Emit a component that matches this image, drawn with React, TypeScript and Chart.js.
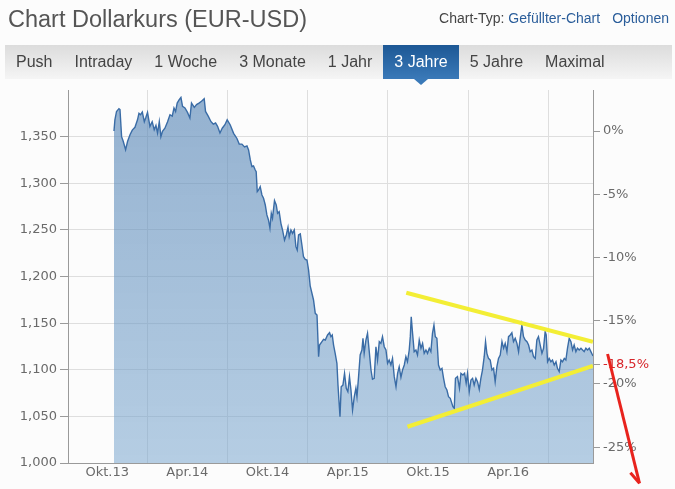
import React, { useEffect, useRef } from 'react';
import { Chart, registerables } from 'chart.js';

Chart.register(...registerables);

// x = months since Jan 2013 (Okt.13 = 9, Jan.14 = 12, ...), y = EUR/USD rate
const eurUsd: [number, number][] = [
  [9.51, 1.356], [9.58, 1.368], [9.7, 1.377], [9.88, 1.38], [9.96, 1.379], [10.08, 1.35], [10.2, 1.345],
  [10.38, 1.336], [10.53, 1.345], [10.71, 1.352], [10.88, 1.357], [11.08, 1.36], [11.27, 1.368], [11.38, 1.375],
  [11.5, 1.3735], [11.63, 1.3764], [11.78, 1.366], [11.9, 1.3707], [12.02, 1.376], [12.2, 1.361], [12.37, 1.366],
  [12.52, 1.3574], [12.65, 1.362], [12.77, 1.3539], [12.9, 1.366], [13.02, 1.35], [13.14, 1.3557], [13.32, 1.359],
  [13.52, 1.366], [13.7, 1.3735], [13.87, 1.372], [14.0, 1.3807], [14.12, 1.377], [14.24, 1.386], [14.39, 1.3896],
  [14.52, 1.392], [14.64, 1.3825], [14.82, 1.3807], [15.01, 1.376], [15.19, 1.37], [15.31, 1.386], [15.52, 1.3814],
  [15.69, 1.3843], [15.87, 1.386], [16.06, 1.3879], [16.26, 1.3907], [16.36, 1.377], [16.56, 1.372], [16.77, 1.366],
  [16.94, 1.3635], [17.11, 1.3646], [17.26, 1.361], [17.44, 1.3539], [17.61, 1.359], [17.81, 1.3628], [17.98, 1.368],
  [18.21, 1.3625], [18.46, 1.3535], [18.71, 1.348], [18.88, 1.342], [19.08, 1.342], [19.28, 1.339], [19.46, 1.34],
  [19.58, 1.3357], [19.71, 1.325], [19.83, 1.3178], [19.95, 1.3185], [20.08, 1.3142], [20.15, 1.3124], [20.23, 1.291],
  [20.33, 1.2928], [20.45, 1.2963], [20.58, 1.2874], [20.7, 1.2839], [20.83, 1.2767], [20.95, 1.266], [21.07, 1.2606],
  [21.18, 1.2517], [21.28, 1.2678], [21.37, 1.2624], [21.52, 1.2813], [21.65, 1.2767], [21.75, 1.2678], [21.87, 1.2695],
  [22.0, 1.257], [22.12, 1.2499], [22.27, 1.2391], [22.4, 1.2445], [22.53, 1.2528], [22.62, 1.2427], [22.75, 1.2499],
  [22.87, 1.2463], [23.0, 1.2499], [23.12, 1.232], [23.22, 1.2284], [23.32, 1.2445], [23.45, 1.2456], [23.57, 1.2338],
  [23.69, 1.2212], [23.82, 1.2184], [23.95, 1.2177], [24.07, 1.207], [24.19, 1.19], [24.44, 1.1748], [24.57, 1.1605],
  [24.7, 1.1587], [24.82, 1.114], [24.89, 1.1265], [25.07, 1.1301], [25.19, 1.1326], [25.32, 1.1319], [25.49, 1.1373],
  [25.64, 1.1397], [25.74, 1.1355], [25.84, 1.1373], [25.94, 1.1265], [26.06, 1.1176], [26.19, 1.1069], [26.27, 1.0836],
  [26.34, 1.0676], [26.42, 1.0496], [26.51, 1.0818], [26.64, 1.0836], [26.76, 1.0962], [26.89, 1.0801], [27.01, 1.0765],
  [27.13, 1.0926], [27.24, 1.0783], [27.36, 1.0568], [27.49, 1.0711], [27.61, 1.0801], [27.69, 1.0711], [27.81, 1.0926],
  [27.93, 1.1158], [28.06, 1.1212], [28.14, 1.1337], [28.23, 1.1176], [28.36, 1.1319], [28.48, 1.1391], [28.61, 1.1194],
  [28.74, 1.0997], [28.85, 1.0898], [28.98, 1.0908], [29.11, 1.1247], [29.23, 1.1104], [29.36, 1.1301], [29.48, 1.1283],
  [29.6, 1.1355], [29.73, 1.1247], [29.86, 1.1212], [29.98, 1.1069], [30.1, 1.1104], [30.23, 1.1051], [30.35, 1.1122],
  [30.48, 1.0926], [30.61, 1.0818], [30.73, 1.0962], [30.85, 1.1033], [30.98, 1.0919], [31.1, 1.0997], [31.23, 1.1051],
  [31.35, 1.114], [31.47, 1.1086], [31.6, 1.1212], [31.68, 1.1355], [31.75, 1.1569], [31.85, 1.1391], [31.97, 1.1194],
  [32.1, 1.1212], [32.22, 1.1158], [32.35, 1.1319], [32.48, 1.123], [32.6, 1.1283], [32.72, 1.1176], [32.85, 1.1212],
  [32.97, 1.1176], [33.1, 1.123], [33.22, 1.1194], [33.34, 1.1391], [33.45, 1.148], [33.55, 1.1355], [33.67, 1.1337],
  [33.79, 1.1051], [33.92, 1.0997], [34.05, 1.1015], [34.17, 1.0908], [34.29, 1.0818], [34.42, 1.0783], [34.54, 1.0711],
  [34.67, 1.0694], [34.87, 1.0604], [34.97, 1.0586], [35.06, 1.0908], [35.21, 1.0926], [35.36, 1.0801], [35.47, 1.0962],
  [35.62, 1.0944], [35.74, 1.0962], [35.86, 1.0855], [35.96, 1.0962], [36.09, 1.0765], [36.22, 1.089], [36.34, 1.0908],
  [36.46, 1.0836], [36.59, 1.0908], [36.71, 1.0872], [36.84, 1.079], [36.96, 1.0908], [37.08, 1.0997], [37.21, 1.114],
  [37.31, 1.1301], [37.41, 1.1176], [37.53, 1.1122], [37.66, 1.1104], [37.79, 1.0997], [37.91, 1.1015], [38.03, 1.0872],
  [38.16, 1.1033], [38.28, 1.1122], [38.41, 1.1158], [38.54, 1.1301], [38.66, 1.123], [38.78, 1.1283], [38.91, 1.1194],
  [39.03, 1.1355], [39.16, 1.1373], [39.28, 1.1397], [39.4, 1.1301], [39.53, 1.1337], [39.66, 1.1283], [39.78, 1.1194],
  [39.9, 1.1337], [40.03, 1.148], [40.15, 1.1355], [40.28, 1.1319], [40.41, 1.1301], [40.53, 1.1265], [40.65, 1.1194],
  [40.78, 1.1212], [40.9, 1.114], [41.03, 1.1122], [41.15, 1.1319], [41.27, 1.1355], [41.4, 1.1265], [41.53, 1.1176],
  [41.65, 1.123], [41.77, 1.1408], [41.85, 1.1373], [41.95, 1.1086], [42.07, 1.1122], [42.2, 1.1086], [42.32, 1.1104],
  [42.45, 1.1051], [42.58, 1.1086], [42.69, 1.1015], [42.82, 1.098], [42.95, 1.1104], [43.07, 1.1086], [43.2, 1.1122],
  [43.32, 1.1104], [43.44, 1.123], [43.57, 1.1337], [43.7, 1.1301], [43.82, 1.1212], [43.94, 1.1265], [44.07, 1.1194],
  [44.19, 1.123], [44.32, 1.1212], [44.45, 1.123], [44.57, 1.1212], [44.69, 1.1194], [44.82, 1.123], [44.94, 1.1212],
  [45.07, 1.123], [45.19, 1.1194], [45.35, 1.1147],
];

const xLabelMonths = [9, 15, 21, 27, 33, 39];
const xLabels = ['Okt.13', 'Apr.14', 'Okt.14', 'Apr.15', 'Okt.15', 'Apr.16'];
const xGridMonths = [12, 18, 24, 30, 36, 42];
const xMin = 6.07;
const xMax = 45.35;

const yTicks = [1.0, 1.05, 1.1, 1.15, 1.2, 1.25, 1.3, 1.35];
const yMin = 1.0;
const yMax = 1.4;

const baseRate = 1.356;
const pctTicks = [-25, -20, -15, -10, -5, 0];
const currentPct = -18.5;

// annotations drawn in data coordinates
const upperTrend: [number, number][] = [[31.38, 1.1826], [45.34, 1.13]];
const lowerTrend: [number, number][] = [[31.47, 1.0389], [45.34, 1.104]];
const arrowShaft: [number, number][] = [[46.44, 1.1169], [48.83, 0.9782]];
const arrowHead: [number, number][] = [[48.15, 0.9895], [48.83, 0.9782], [49.15, 0.9912]];

const tabs = ['Push', 'Intraday', '1 Woche', '3 Monate', '1 Jahr', '3 Jahre', '5 Jahre', 'Maximal'];
const activeTab = '3 Jahre';

const toPts = (arr: [number, number][]) => arr.map(([x, y]) => ({ x, y }));

const tickFont = { family: '"DejaVu Sans", Verdana, sans-serif', size: 13 };
const tickGrey = '#6a6a6a';
const axisGrey = '#9a9a9a';

export default function App() {
  const canvasRef = useRef<HTMLCanvasElement | null>(null);

  useEffect(() => {
    const canvas = canvasRef.current;
    if (!canvas) return;
    const chart = new Chart(canvas, {
      type: 'line',
      data: {
        datasets: [
          {
            data: toPts(arrowShaft),
            borderColor: '#e8231d',
            borderWidth: 3,
            pointRadius: 0,
            fill: false,
            clip: false as any,
            order: 0,
          },
          {
            data: toPts(arrowHead),
            borderColor: '#e8231d',
            borderWidth: 3,
            pointRadius: 0,
            fill: false,
            clip: false as any,
            order: 0,
          },
          {
            data: toPts(upperTrend),
            borderColor: '#f3ee35',
            borderWidth: 4,
            pointRadius: 0,
            fill: false,
            order: 1,
          },
          {
            data: toPts(lowerTrend),
            borderColor: '#f3ee35',
            borderWidth: 4,
            pointRadius: 0,
            fill: false,
            order: 1,
          },
          {
            data: toPts(eurUsd),
            borderColor: '#3a6ca6',
            borderWidth: 1.4,
            pointRadius: 0,
            tension: 0,
            fill: 'start',
            order: 2,
            backgroundColor: (ctx: any) => {
              const area = ctx.chart.chartArea;
              if (!area) return 'rgba(100,145,190,0.6)';
              const g = ctx.chart.ctx.createLinearGradient(0, area.top, 0, area.bottom);
              g.addColorStop(0, 'rgba(88,134,182,0.64)');
              g.addColorStop(1, 'rgba(122,166,206,0.55)');
              return g;
            },
          },
        ],
      },
      options: {
        animation: false,
        responsive: false,
        events: [],
        layout: { padding: { top: 90, left: 0, right: 0, bottom: 0 } },
        plugins: { legend: { display: false }, tooltip: { enabled: false } },
        scales: {
          x: {
            type: 'linear',
            min: xMin,
            max: xMax,
            afterBuildTicks: (s: any) => {
              s.ticks = [...xLabelMonths, ...xGridMonths].sort((a, b) => a - b).map((v) => ({ value: v }));
            },
            afterFit: (s: any) => {
              s.height = 26;
            },
            grid: {
              color: (ctx: any) => (ctx.tick && xGridMonths.includes(ctx.tick.value) ? '#dedede' : 'rgba(0,0,0,0)'),
              drawTicks: false,
            },
            border: { color: axisGrey },
            ticks: {
              autoSkip: false,
              maxRotation: 0,
              padding: 2,
              color: tickGrey,
              font: tickFont,
              callback: (v: any) => {
                const i = xLabelMonths.indexOf(Number(v));
                return i >= 0 ? xLabels[i] : '';
              },
            },
          },
          y: {
            type: 'linear',
            position: 'left',
            min: yMin,
            max: yMax,
            afterBuildTicks: (s: any) => {
              s.ticks = yTicks.map((v) => ({ value: v }));
            },
            afterFit: (s: any) => {
              s.width = 68;
            },
            grid: { color: '#dedede', tickColor: axisGrey, tickLength: 8 },
            border: { color: axisGrey },
            ticks: {
              padding: 3,
              color: tickGrey,
              font: tickFont,
              callback: (v: any) => Number(v).toFixed(3).replace('.', ','),
            },
          },
          y2: {
            type: 'linear',
            position: 'right',
            min: (yMin / baseRate - 1) * 100,
            max: (yMax / baseRate - 1) * 100,
            afterBuildTicks: (s: any) => {
              s.ticks = [...pctTicks, currentPct].sort((a, b) => a - b).map((v) => ({ value: v }));
            },
            afterFit: (s: any) => {
              s.width = 82;
            },
            grid: { drawOnChartArea: false, tickColor: axisGrey, tickLength: 7 },
            border: { color: axisGrey },
            ticks: {
              padding: 3,
              font: tickFont,
              color: (ctx: any) => (ctx.tick && ctx.tick.value === currentPct ? '#d7262b' : tickGrey),
              callback: (v: any) => String(v).replace('.', ',') + '%',
            },
          },
        },
      },
    });
    return () => chart.destroy();
  }, []);

  return (
    <div
      style={{
        position: 'absolute',
        left: 0,
        top: 0,
        width: 675,
        height: 489,
        background: '#fcfcfc',
        overflow: 'hidden',
        fontFamily: '"Liberation Sans", Arial, Helvetica, sans-serif',
      }}
    >
      <canvas ref={canvasRef} width={675} height={489} style={{ position: 'absolute', left: 0, top: 0 }} />
      <div style={{ position: 'absolute', left: 8, top: 8, fontSize: 23.5, lineHeight: 1, color: '#555', whiteSpace: 'nowrap' }}>
        Chart Dollarkurs (EUR-USD)
      </div>
      <div style={{ position: 'absolute', right: 6, top: 11, fontSize: 14, lineHeight: 1, color: '#444', whiteSpace: 'nowrap' }}>
        Chart-Typ: <span style={{ color: '#2a5d9a' }}>Gefüllter-Chart</span>
        <span style={{ color: '#2a5d9a', marginLeft: 12 }}>Optionen</span>
      </div>
      <div
        style={{
          position: 'absolute',
          left: 5,
          top: 45,
          width: 667,
          height: 34,
          background: 'linear-gradient(#dcdcdc, #f5f5f5)',
          display: 'flex',
        }}
      >
        {tabs.map((t) => {
          const active = t === activeTab;
          return (
            <div
              key={t}
              style={{
                position: 'relative',
                padding: '0 11px',
                height: 34,
                lineHeight: '34px',
                fontSize: 16,
                color: active ? '#fff' : '#444',
                background: active ? 'linear-gradient(#1d5895, #3a79b8)' : 'transparent',
                whiteSpace: 'nowrap',
              }}
            >
              {t}
              {active && (
                <div
                  style={{
                    position: 'absolute',
                    left: '50%',
                    top: 34,
                    marginLeft: -7,
                    width: 0,
                    height: 0,
                    borderLeft: '7px solid transparent',
                    borderRight: '7px solid transparent',
                    borderTop: '6px solid #3a79b8',
                  }}
                />
              )}
            </div>
          );
        })}
      </div>
    </div>
  );
}
